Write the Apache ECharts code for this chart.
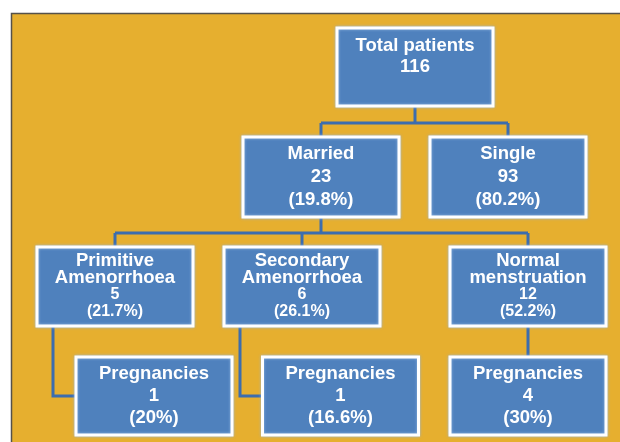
<!DOCTYPE html>
<html>
<head>
<meta charset="utf-8">
<script src="https://cdn.jsdelivr.net/npm/echarts@6/dist/echarts.min.js"></script>
<style>
  html, body { margin: 0; padding: 0; background: #ffffff; }
  #chart { width: 620px; height: 442px; }
</style>
</head>
<body>
<div id="chart"></div>
<script>
// ---- data ----
const nodeLabels = ['Total patients', 'Married', 'Single', 'Primitive\nAmenorrhoea', 'Secondary\nAmenorrhoea', 'Normal\nmenstruation', 'Pregnancies', 'Pregnancies', 'Pregnancies'];
const nodeCounts = [116, 23, 93, 5, 6, 12, 1, 1, 4];
const nodePercents = ['', '19.8%', '80.2%', '21.7%', '26.1%', '52.2%', '20%', '16.6%', '30%'];
const nodeParents = [-1, 0, 0, 1, 1, 1, 3, 4, 5];
const nodeLevels = [0, 1, 1, 2, 2, 2, 3, 3, 3];

// ---- layout (diagram units = pixels of the hidden value axes) ----
const layoutX = [415, 321, 508, 115, 302, 528, 154, 340.5, 528];
const layoutY = [67, 177, 177, 286.5, 286.5, 286.5, 396, 396, 396];
const boxW = 156;
const levelBoxH = [78, 80, 79, 78];
const levelLineH = [21, 23, 17, 22];
const levelTextOffset = [-10.5, 0, -0.5, 0];

// ---- connectors derived from parents + layout ----
const connectors = [];
const childrenOf = {};
nodeParents.forEach((p, i) => { if (p >= 0) (childrenOf[p] = childrenOf[p] || []).push(i); });
Object.keys(childrenOf).forEach(k => {
  const p = +k, kids = childrenOf[k];
  const pBottom = layoutY[p] + levelBoxH[nodeLevels[p]] / 2;
  if (kids.length > 1) {
    const cTop = layoutY[kids[0]] - levelBoxH[nodeLevels[kids[0]]] / 2;
    const busY = cTop - 14;
    connectors.push([[layoutX[p], pBottom], [layoutX[p], busY]]);
    const xs = kids.map(c => layoutX[c]);
    connectors.push([[Math.min(...xs), busY], [Math.max(...xs), busY]]);
    kids.forEach(c => connectors.push([[layoutX[c], busY], [layoutX[c], cTop]]));
  } else {
    const c = kids[0];
    if (Math.abs(layoutX[c] - layoutX[p]) < 1) {
      const cTop = layoutY[c] - levelBoxH[nodeLevels[c]] / 2;
      connectors.push([[layoutX[p], pBottom], [layoutX[c], cTop]]);
    } else {
      const ex = layoutX[p] - boxW / 2 + 16;
      const cLeft = layoutX[c] - boxW / 2;
      connectors.push([[ex, pBottom], [ex, layoutY[c]], [cLeft, layoutY[c]]]);
    }
  }
});

const nodeData = nodeLabels.map((n, i) => [layoutX[i], layoutY[i], i]);

const chart = echarts.init(document.getElementById('chart'), null, { renderer: 'canvas' });
const FONT = '"Liberation Sans", Arial, sans-serif';

function nodeText(i) {
  const lvl = nodeLevels[i];
  const nameLines = nodeLabels[i].split('\n').map(s => '{n|' + s + '}');
  const lines = nameLines.concat(['{v|' + nodeCounts[i] + '}']);
  if (nodePercents[i]) lines.push('{v|(' + nodePercents[i] + ')}');
  return lines.join('\n');
}

chart.setOption({
  backgroundColor: '#ffffff',
  animation: false,
  grid: { left: 0, right: 0, top: 0, bottom: 0 },
  xAxis: { type: 'value', min: 0, max: 620, show: false },
  yAxis: { type: 'value', min: 0, max: 442, inverse: true, show: false },
  graphic: {
    elements: [
      {
        type: 'rect', z: -10, silent: true,
        shape: { x: 11.5, y: 13.5, width: 640, height: 460 },
        style: { fill: '#E6AF2F', stroke: '#55514a', lineWidth: 1.5 }
      }
    ]
  },
  series: [
    {
      type: 'custom',
      coordinateSystem: 'cartesian2d',
      z: 3,
      data: connectors.map((c, i) => [c[0][0], c[0][1], i]),
      renderItem: function (params, api) {
        const pts = connectors[api.value(2)].map(p => api.coord(p));
        return {
          type: 'polyline',
          shape: { points: pts },
          style: { stroke: '#3C6DAE', lineWidth: 3, fill: null, lineJoin: 'miter' }
        };
      }
    },
    {
      type: 'custom',
      coordinateSystem: 'cartesian2d',
      z: 5,
      data: nodeData,
      renderItem: function (params, api) {
        const i = api.value(2);
        const lvl = nodeLevels[i];
        const c = api.coord([api.value(0), api.value(1)]);
        const sz = api.size([boxW, levelBoxH[lvl]]);
        const lh = levelLineH[lvl];
        const valSize = lvl === 2 ? 16 : 18.5;
        return {
          type: 'group',
          children: [
            {
              type: 'rect',
              shape: { x: c[0] - sz[0] / 2, y: c[1] - sz[1] / 2, width: sz[0], height: sz[1] },
              style: {
                fill: '#4F81BD', stroke: '#ffffff', lineWidth: 3,
                shadowBlur: 3, shadowColor: 'rgba(150,185,230,0.9)'
              }
            },
            {
              type: 'text',
              x: c[0], y: c[1] + levelTextOffset[lvl],
              style: {
                text: nodeText(i),
                align: 'center', verticalAlign: 'middle',
                fill: '#ffffff',
                rich: {
                  n: { fontFamily: FONT, fontWeight: 'bold', fontSize: 18.5, lineHeight: lh, fill: '#ffffff' },
                  v: { fontFamily: FONT, fontWeight: 'bold', fontSize: valSize, lineHeight: lh, fill: '#ffffff' }
                }
              }
            }
          ]
        };
      }
    }
  ]
});
</script>
</body>
</html>
